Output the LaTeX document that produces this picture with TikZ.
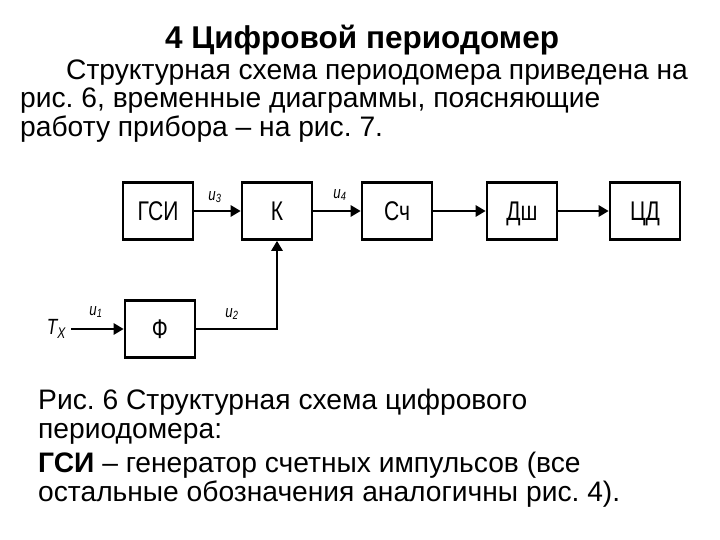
\documentclass[tikz,border=0pt]{standalone}
\usepackage{fontspec}
\setmainfont{Liberation Sans}
\newfontfamily\narrowfont[FakeStretch=0.78]{Liberation Sans}
\usepackage{tikz}
\usetikzlibrary{arrows.meta}
\frenchspacing

\begin{document}
\begin{tikzpicture}[x=1pt,y=-1pt,
		block/.style={draw, line width=2.6pt, minimum width=70pt, minimum height=57pt, inner sep=0pt, text height=19.5pt, text depth=0pt, font=\narrowfont\fontsize{27}{27}\selectfont},
		sig/.style={line width=2.6pt, -{Triangle[length=10pt,width=11pt]}},
		lbl/.style={font=\narrowfont\fontsize{17}{17}\selectfont\itshape, inner sep=0pt},
		txt/.style={anchor=west, inner sep=0pt, font=\fontsize{28.2}{28.2}\selectfont}]
		\useasboundingbox (0,0) rectangle (720,540);
		
		\node[font=\fontsize{31.5}{31.5}\selectfont\bfseries, inner sep=0pt] (title) at (362,40) {4 Цифровой периодомер};
		\node[txt] (line1) at (66,73) {Структурная схема периодомера приведена на};
		\node[txt] (line2) at (20,101) {рис. 6, временные диаграммы, поясняющие};
		\node[txt] (line3) at (20,129) {работу прибора -- на рис. 7.};
		
		\node[block] (gsi) at (158,211) {ГСИ};
		\node[block] (k) at (277,211) {К};
		\node[block] (sch) at (397,211) {Сч};
		\node[block] (dsh) at (522,211) {Дш};
		\node[block] (cd) at (645,211) {ЦД};
		\node[block] (f) at (160,329) {Ф};
		
		\coordinate (in) at (71,329);
		\node[font=\narrowfont\fontsize{22}{22}\selectfont\itshape, inner sep=0pt, anchor=east] (tx) at (66,329) {T\textsubscript{X}};
		
		\draw[sig] (gsi) -- (k);
		\draw[sig] (k) -- (sch);
		\draw[sig] (sch) -- (dsh);
		\draw[sig] (dsh) -- (cd);
		\draw[sig] (in) -- (f);
		\draw[sig] (f.east) -| (k.south);
		
		\node[lbl] (u3) at (215,197) {u\textsubscript{3}};
		\node[lbl] (u4) at (340,195) {u\textsubscript{4}};
		\node[lbl] (u1) at (96,312) {u\textsubscript{1}};
		\node[lbl] (u2) at (232,314) {u\textsubscript{2}};
		
		\node[txt] (cap1) at (38,402) {Рис. 6 Структурная схема цифрового};
		\node[txt] (cap2) at (38,434) {периодомера:};
		\node[txt] (cap3) at (38,465) {\textbf{ГСИ} -- генератор счетных импульсов (все};
		\node[txt] (cap4) at (38,494) {остальные обозначения аналогичны рис. 4).};
	\end{tikzpicture}
\end{document}
